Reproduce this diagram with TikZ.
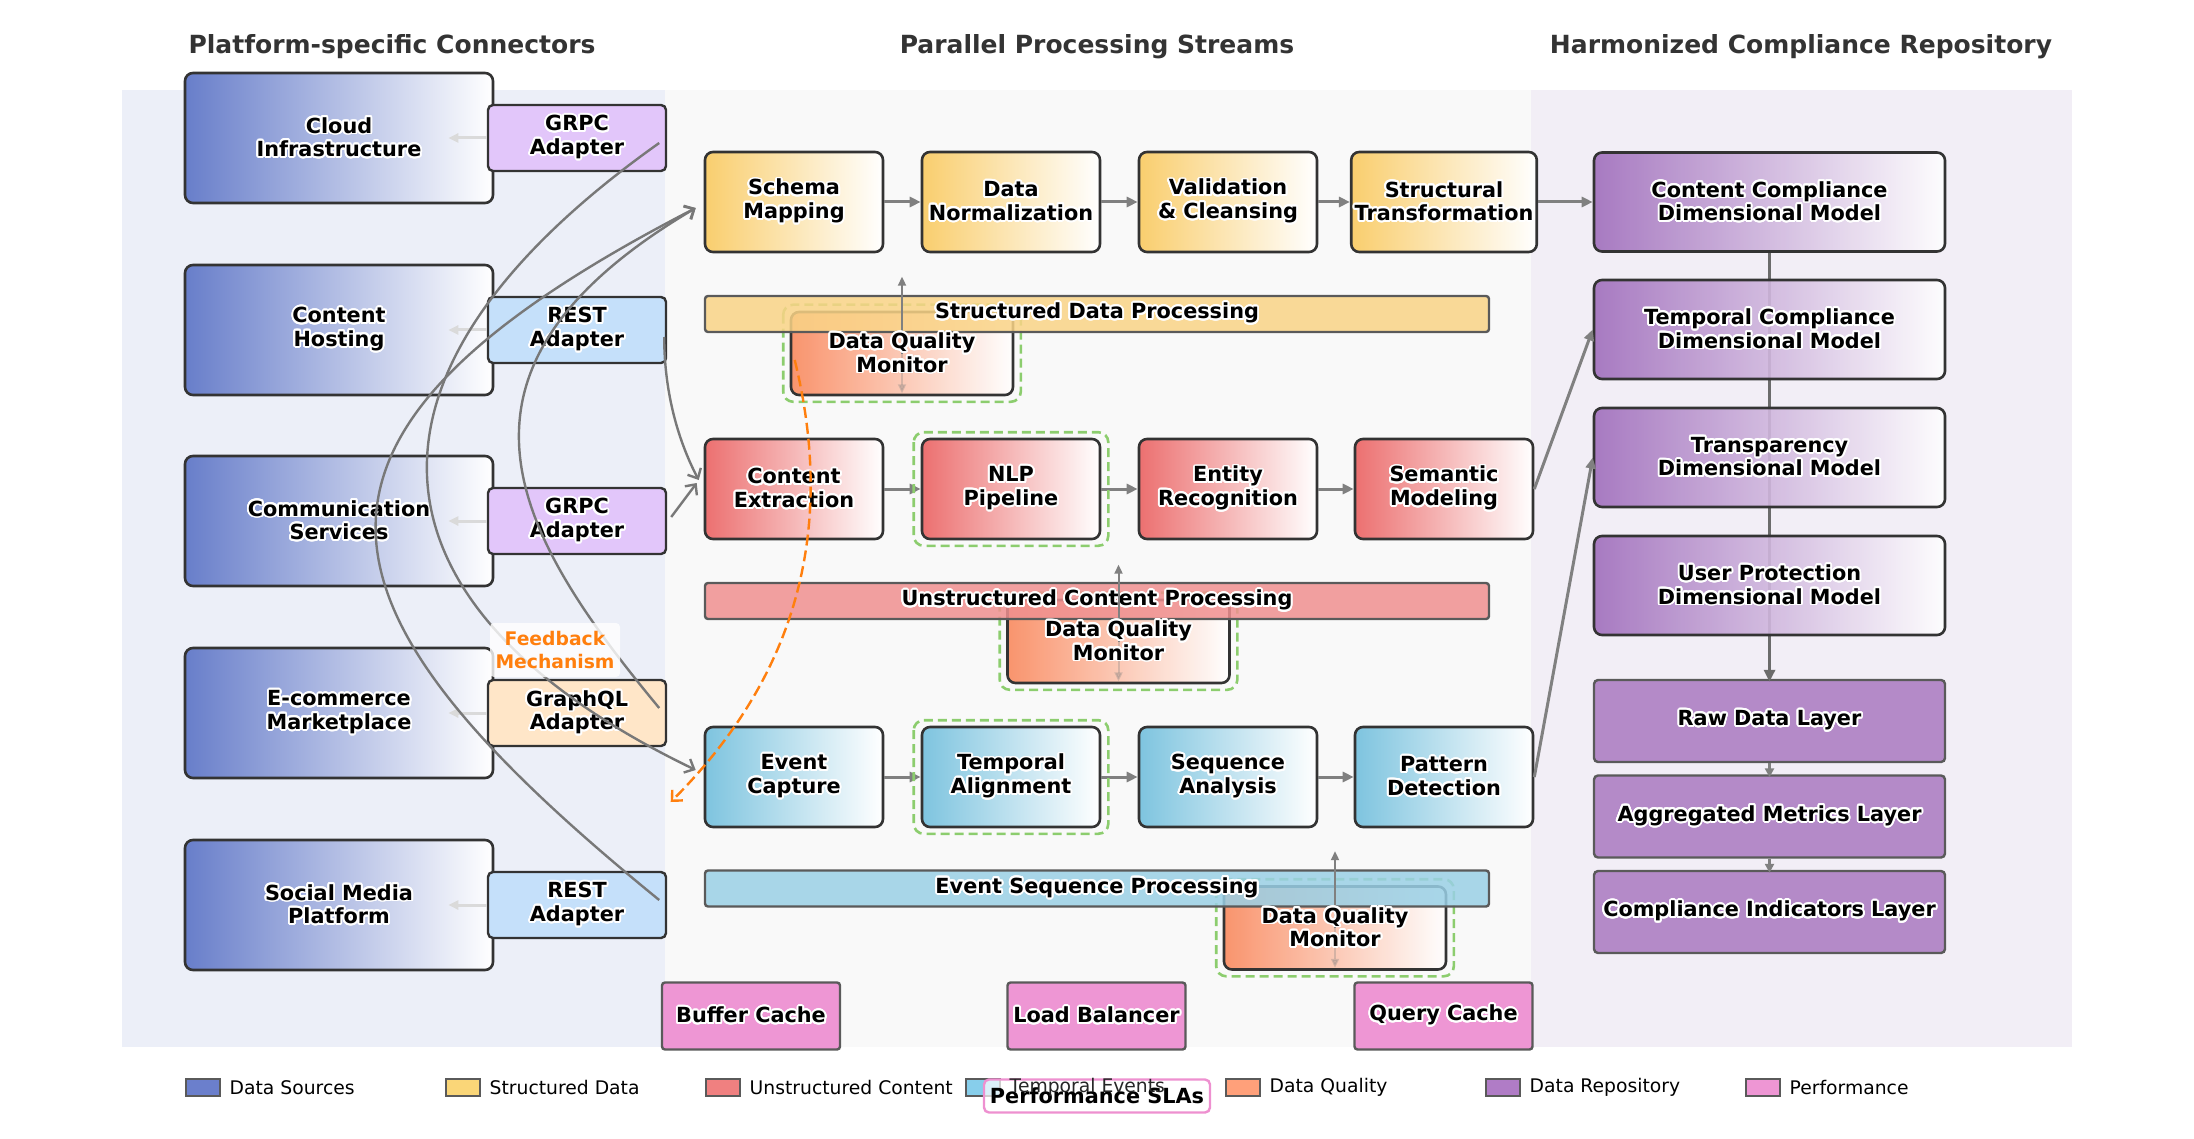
\documentclass[tikz,border=0pt]{standalone}
\usepackage{fontspec}
\setmainfont{DejaVu Sans}
\usepackage{contour}
\contourlength{1.9pt}
\contournumber{24}
\usetikzlibrary{arrows.meta,calc}
\definecolor{bgL}{RGB}{236,239,248}
\definecolor{bgM}{RGB}{249,249,249}
\definecolor{bgR}{RGB}{242,238,246}
\definecolor{edge}{RGB}{51,51,51}
\definecolor{edgeB}{RGB}{90,90,90}
\definecolor{srcC}{RGB}{104,126,202}
\definecolor{grpcC}{RGB}{226,198,250}
\definecolor{restC}{RGB}{197,224,250}
\definecolor{gqlC}{RGB}{255,230,200}
\definecolor{strC}{RGB}{249,206,110}
\definecolor{strBand}{RGB}{250,212,135}
\definecolor{unsC}{RGB}{236,112,112}
\definecolor{unsBand}{RGB}{240,144,144}
\definecolor{tmpC}{RGB}{126,196,223}
\definecolor{tmpBand}{RGB}{154,208,230}
\definecolor{dqC}{RGB}{250,140,98}
\definecolor{dimC}{RGB}{160,110,188}
\definecolor{layC}{RGB}{180,138,200}
\definecolor{perfC}{RGB}{238,150,212}
\definecolor{hiC}{RGB}{140,205,110}
\definecolor{fbC}{RGB}{255,127,14}
\definecolor{arrC}{RGB}{128,128,128}
\definecolor{curC}{RGB}{120,120,120}
\definecolor{lightArr}{RGB}{218,218,218}
\definecolor{titC}{RGB}{51,51,51}
\definecolor{lgSrc}{RGB}{107,127,204}
\definecolor{lgStr}{RGB}{250,214,120}
\definecolor{lgUns}{RGB}{240,128,128}
\definecolor{lgTmp}{RGB}{135,206,235}
\definecolor{lgDq}{RGB}{255,160,122}
\definecolor{lgRep}{RGB}{176,124,198}
\definecolor{lgPerf}{RGB}{238,150,212}
\definecolor{slaC}{RGB}{238,144,208}
\newcommand{\hl}[1]{\contour{white}{#1}}
\begin{document}
\begin{tikzpicture}[x=1pt,y=-1pt,
  nf/.style={font=\fontsize{20.8pt}{23.5pt}\selectfont\bfseries},
  ttl/.style={font=\fontsize{25pt}{30pt}\selectfont\bfseries, text=titC, anchor=base},
  srcbox/.style={draw=edge, line width=2.6pt, rounded corners=8pt, minimum width=308pt, minimum height=130pt, left color=srcC, right color=white, align=center, nf},
  adp/.style={draw=edge, line width=2.4pt, rounded corners=5pt, minimum width=178pt, minimum height=66pt, align=center, nf, fill=#1},
  stream/.style={draw=edge, line width=2.6pt, rounded corners=8pt, minimum width=178pt, minimum height=100pt, left color=#1, right color=white, align=center, nf},
  band/.style={draw=edgeB, line width=2.4pt, rounded corners=3pt, minimum width=784pt, minimum height=36pt, fill=#1, fill opacity=0.85, text opacity=1, nf},
  dq/.style={draw=edge, line width=2.6pt, rounded corners=8pt, minimum width=222pt, minimum height=83pt, left color=dqC, right color=white, fill opacity=0.92},
  hilite/.style={draw=hiC, line width=2.6pt, dash pattern=on 9pt off 5pt, rounded corners=10pt},
  dimbox/.style={draw=edge, line width=2.6pt, rounded corners=8pt, minimum width=351pt, minimum height=99pt, left color=dimC, right color=white, fill opacity=0.9, text opacity=1, align=center, nf},
  laybox/.style={draw=edgeB, line width=2.4pt, rounded corners=4pt, minimum width=351pt, minimum height=82pt, fill=layC, nf},
  perfbox/.style={draw=edgeB, line width=2.4pt, rounded corners=3pt, minimum width=178pt, minimum height=67pt, fill=perfC, nf},
  sarr/.style={draw=arrC, line width=3pt, -{Triangle[length=11pt,width=10pt]}},
  vline/.style={draw=edgeB!90, line width=3.2pt, -{Triangle[length=12pt,width=11pt]}},
  srcarr/.style={draw=lightArr, line width=3pt, -{Triangle[length=10pt,width=9pt]}},
  cur/.style={draw=curC, line width=2.4pt, -{Straight Barb[length=8pt,width=15pt]}},
  fbarr/.style={draw=fbC, line width=2.4pt, dash pattern=on 11pt off 5pt, -{Straight Barb[length=8pt,width=15pt]}},
  dqarr/.style={draw=arrC, line width=2pt, -{Triangle[length=9pt,width=8pt]}},
  lgp/.style={draw=edgeB, line width=1.6pt, minimum width=34pt, minimum height=17pt, inner sep=0pt},
  lgt/.style={font=\fontsize{18.75pt}{22pt}\selectfont, inner sep=0pt, anchor=west}
]
\useasboundingbox (0,0) rectangle (2194,1139);
% panels
\fill[bgL] (122,90) rectangle (665,1047);
\fill[bgM] (665,90) rectangle (1531,1047);
\fill[bgR] (1531,90) rectangle (2072,1047);
% titles
\node[ttl] (t1) at (392,54) {Platform-specific Connectors};
\node[ttl] (t2) at (1097,54) {Parallel Processing Streams};
\node[ttl] (t3) at (1801,54) {Harmonized Compliance Repository};
% sources
\node[srcbox] (s1) at (339,138) {\hl{Cloud}\\\hl{Infrastructure}};
\node[srcbox] (s2) at (339,330) {\hl{Content}\\\hl{Hosting}};
\node[srcbox] (s3) at (339,521) {\hl{Communication}\\\hl{Services}};
\node[srcbox] (s4) at (339,713) {\hl{E-commerce}\\\hl{Marketplace}};
\node[srcbox] (s5) at (339,905) {\hl{Social Media}\\\hl{Platform}};
% adapters
\node[adp=grpcC] (a1) at (577,138) {\hl{GRPC}\\\hl{Adapter}};
\node[adp=restC] (a2) at (577,330) {\hl{REST}\\\hl{Adapter}};
\node[adp=grpcC] (a3) at (577,521) {\hl{GRPC}\\\hl{Adapter}};
\node[adp=gqlC] (a4) at (577,713) {\hl{GraphQL}\\\hl{Adapter}};
\node[adp=restC] (a5) at (577,905) {\hl{REST}\\\hl{Adapter}};
\foreach \i in {1,...,5} {\draw[srcarr] (a\i.west) -- ([xshift=-46pt]s\i.east);}
% stream boxes
\node[stream=strC] (sm) at (794,202) {\hl{Schema}\\\hl{Mapping}};
\node[stream=strC] (dn) at (1011,202) {\hl{Data}\\\hl{Normalization}};
\node[stream=strC] (vc) at (1228,202) {\hl{Validation}\\\hl{\& Cleansing}};
\node[stream=strC] (st) at (1444,202) {\hl{Structural}\\\hl{Transformation}};
\node[stream=unsC] (ce) at (794,489) {\hl{Content}\\\hl{Extraction}};
\node[stream=unsC] (nlp) at (1011,489) {\hl{NLP}\\\hl{Pipeline}};
\node[stream=unsC] (er) at (1228,489) {\hl{Entity}\\\hl{Recognition}};
\node[stream=unsC] (sem) at (1444,489) {\hl{Semantic}\\\hl{Modeling}};
\node[stream=tmpC] (ec) at (794,777) {\hl{Event}\\\hl{Capture}};
\node[stream=tmpC] (ta) at (1011,777) {\hl{Temporal}\\\hl{Alignment}};
\node[stream=tmpC] (sa) at (1228,777) {\hl{Sequence}\\\hl{Analysis}};
\node[stream=tmpC] (pd) at (1444,777) {\hl{Pattern}\\\hl{Detection}};
\draw[sarr] (sm) -- (dn); \draw[sarr] (dn) -- (vc); \draw[sarr] (vc) -- (st);
\draw[sarr] (ce) -- (nlp); \draw[sarr] (nlp) -- (er); \draw[sarr] (er) -- (sem);
\draw[sarr] (ec) -- (ta); \draw[sarr] (ta) -- (sa); \draw[sarr] (sa) -- (pd);
% adapter -> stream curves
\draw[cur] ([shift={(-8pt,-5pt)}]a1.east) .. controls +(-337,239) and +(-328,-158) .. ([shift={(-8pt,7pt)}]ec.west);
\draw[cur] ([shift={(-8pt,5pt)}]a5.east) .. controls +(-360,-293) and +(-444,229) .. ([shift={(-8pt,-6pt)}]sm.west);
\draw[cur] ([shift={(-8pt,5pt)}]a4.east) .. controls +(-146,-176) and +(-274,162) .. ([shift={(-8pt,-6pt)}]sm.west);
\draw[cur] ([shift={(-3pt,-7pt)}]a2.east) .. controls +(0,50) and +(-23,-44) .. ([shift={(-5pt,9pt)}]ce.west);
\draw[cur] ([shift={(4pt,4pt)}]a3.east) -- ([shift={(-7pt,6pt)}]ce.west);
% highlights on stream boxes
\draw[hilite] ([shift={(-7pt,5.5pt)}]nlp.north west) rectangle ([shift={(7pt,-5.5pt)}]nlp.south east);
\draw[hilite] ([shift={(-7pt,5.5pt)}]ta.north west) rectangle ([shift={(7pt,-5.5pt)}]ta.south east);
% data quality monitors
\node[dq] (q1) at (902,353.5) {};
\node[dq] (q2) at (1118.5,641.5) {};
\node[dq] (q3) at (1335,928) {};
\foreach \q in {q1,q2,q3} {
  \draw[hilite] ([shift={(-6.5pt,6pt)}]\q.north west) rectangle ([shift={(6.5pt,-5.5pt)}]\q.south east);
  \draw[dqarr, opacity=0.3] (\q.center) -- ([yshift=3pt]\q.south);
}
% bands
\node[band=strBand] (b1) at (1097,314) {\hl{Structured Data Processing}};
\node[band=unsBand] (b2) at (1097,601) {\hl{Unstructured Content Processing}};
\node[band=tmpBand] (b3) at (1097,888.5) {\hl{Event Sequence Processing}};
\foreach \q in {q1,q2,q3} {\draw[dqarr] (\q.center) -- ([yshift=34pt]\q.north);}
\node[nf, align=center] (q1t) at (q1.center) {\hl{Data Quality}\\\hl{Monitor}};
\node[nf, align=center] (q2t) at (q2.center) {\hl{Data Quality}\\\hl{Monitor}};
\node[nf, align=center] (q3t) at (q3.center) {\hl{Data Quality}\\\hl{Monitor}};
% repository
\node[laybox] (y1) at (1769.5,721) {\hl{Raw Data Layer}};
\node[laybox] (y2) at (1769.5,816.5) {\hl{Aggregated Metrics Layer}};
\node[laybox] (y3) at (1769.5,912) {\hl{Compliance Indicators Layer}};
\coordinate (d1s) at (1769.5,252);
\draw[vline] (d1s) -- ([yshift=-3pt]y1.north);
\node[dimbox] (d1) at (1769.5,202) {\hl{Content Compliance}\\\hl{Dimensional Model}};
\node[dimbox] (d2) at (1769.5,329.5) {\hl{Temporal Compliance}\\\hl{Dimensional Model}};
\node[dimbox] (d3) at (1769.5,457.5) {\hl{Transparency}\\\hl{Dimensional Model}};
\node[dimbox] (d4) at (1769.5,585.5) {\hl{User Protection}\\\hl{Dimensional Model}};
\draw[sarr, line width=2.4pt, -{Triangle[length=9pt,width=9pt]}] (y1.south) -- ([yshift=-3pt]y2.north);
\draw[sarr, line width=2.4pt, -{Triangle[length=9pt,width=9pt]}] (y2.south) -- ([yshift=-3pt]y3.north);
\draw[sarr] (st.east) -- (d1.west);
\draw[sarr] (sem.east) -- (d2.west);
\draw[sarr] (pd.east) -- (d3.west);
% performance
\node[perfbox] (p1) at (751,1016) {\hl{Buffer Cache}};
\node[perfbox] (p2) at (1096.5,1016) {\hl{Load Balancer}};
\node[perfbox] (p3) at (1443.5,1016) {\hl{Query Cache}};
% feedback
\draw[fbarr] ([shift={(5pt,-6.5pt)}]q1.west) .. controls +(42,171) and +(125,-125) .. ([shift={(-33pt,-25pt)}]ec.west);
\node[draw=none, fill=white, fill opacity=0.8, text opacity=1, rounded corners=4pt, minimum width=130pt, minimum height=54pt, align=center, text=fbC, font=\fontsize{18.75pt}{22.5pt}\selectfont\bfseries] (fb) at (555,650) {Feedback\\Mechanism};
% legend
\node[lgp, fill=lgSrc] (g1) at (203,1087.5) {};
\node[lgt] (g1t) at (229.5,1087.5) {Data Sources};
\node[lgp, fill=lgStr] (g2) at (463,1087.5) {};
\node[lgt] (g2t) at (489.5,1087.5) {Structured Data};
\node[lgp, fill=lgUns] (g3) at (723,1087.5) {};
\node[lgt] (g3t) at (749.5,1087.5) {Unstructured Content};
\node[lgp, fill=lgTmp] (g4) at (983,1087.5) {};
\node[lgp, fill=lgDq] (g5) at (1243,1087.5) {};
\node[lgt] (g5t) at (1269.5,1087.5) {Data Quality};
\node[lgp, fill=lgRep] (g6) at (1503,1087.5) {};
\node[lgt] (g6t) at (1529.5,1087.5) {Data Repository};
\node[lgp, fill=lgPerf] (g7) at (1763,1087.5) {};
\node[lgt] (g7t) at (1789.5,1087.5) {Performance};
\node[draw=slaC, line width=2.4pt, fill=white, fill opacity=0.7, text opacity=1, rounded corners=5pt, minimum width=226pt, minimum height=33pt, inner sep=0pt, nf] (sla) at (1097,1096) {Performance SLAs};
\node[lgt, text=black!85] (g4t) at (1009.5,1087.5) {Temporal Events};
\end{tikzpicture}
\end{document}
